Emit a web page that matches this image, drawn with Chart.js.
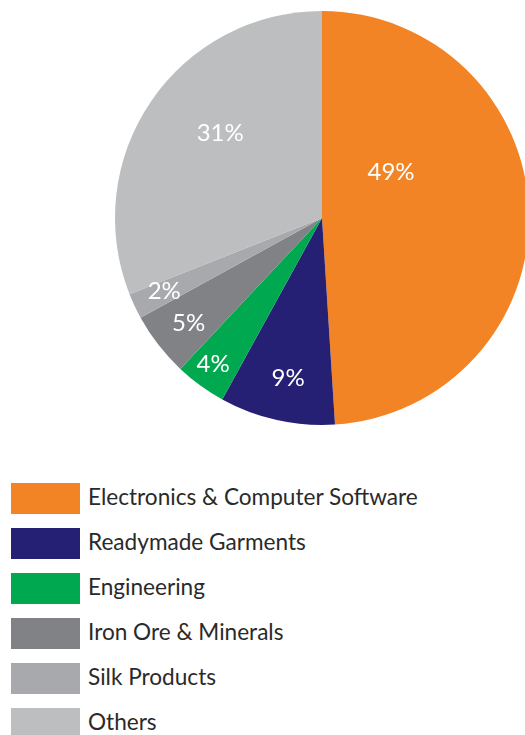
<!DOCTYPE html>
<html>
<head>
<meta charset="utf-8">
<script src="https://cdn.jsdelivr.net/npm/chart.js@4/dist/chart.umd.min.js"></script>
<style>
    html, body { margin: 0; padding: 0; background: #fff; overflow: hidden; }
    body { width: 525px; height: 735px; position: relative; }
    #pieWrap { position: absolute; left: 0; top: 0; width: 644px; height: 436px; }
    #legend { position: absolute; left: 11px; top: 483px; font-family: Lato, sans-serif; }
    .row { display: flex; align-items: center; height: 31px; margin-bottom: 14px; }
    .swatch { width: 69px; height: 31px; margin-right: 8px; }
    .name { font-size: 22.6px; color: #2a2a2a; white-space: nowrap; position: relative; top: -2px; }
</style>
</head>
<body>
<div id="pieWrap"><canvas id="exportChart"></canvas></div>
<div id="legend"></div>
<script>
// Export share by sector (%)
const sectors = ['Electronics & Computer Software', 'Readymade Garments', 'Engineering', 'Iron Ore & Minerals', 'Silk Products', 'Others'];
const shares = [49, 9, 4, 5, 2, 31];
const sectorColors = ['#F38426', '#262075', '#00A950', '#808285', '#A7A9AC', '#BCBEC0'];

// where each % label sits inside its slice: fraction along the arc, fraction of radius
const labelAngleFrac = [0.32, 0.48, 0.55, 0.48, 0.55, 0.55];
const labelRadiusFrac = [0.40, 0.79, 0.88, 0.82, 0.84, 0.64];

// draws the percentage text inside each slice
const sliceLabels = {
    id: 'sliceLabels',
    afterDatasetsDraw(chart) {
        const ctx = chart.ctx;
        const meta = chart.getDatasetMeta(0);
        ctx.save();
        ctx.fillStyle = '#ffffff';
        ctx.font = '24px Lato, sans-serif';
        ctx.textAlign = 'center';
        ctx.textBaseline = 'middle';
        meta.data.forEach((arc, i) => {
            const p = arc.getProps(['x', 'y', 'startAngle', 'endAngle', 'outerRadius'], true);
            const a = p.startAngle + (p.endAngle - p.startAngle) * labelAngleFrac[i];
            const r = p.outerRadius * labelRadiusFrac[i];
            ctx.fillText(shares[i] + '%', p.x + Math.cos(a) * r, p.y + Math.sin(a) * r);
        });
        ctx.restore();
    }
};

new Chart(document.getElementById('exportChart'), {
    type: 'pie',
    data: {
        labels: sectors,
        datasets: [{
            data: shares,
            backgroundColor: sectorColors,
            borderWidth: 0
        }]
    },
    options: {
        responsive: true,
        maintainAspectRatio: false,
        animation: false,
        layout: { padding: 11 },
        plugins: {
            legend: { display: false },
            tooltip: { enabled: false }
        }
    },
    plugins: [sliceLabels]
});

// legend list under the pie
const legendEl = document.getElementById('legend');
sectors.forEach((name, i) => {
    const row = document.createElement('div');
    row.className = 'row';
    row.innerHTML = `<div class="swatch" style="background:${sectorColors[i]}"></div><span class="name">${name}</span>`;
    legendEl.appendChild(row);
});
</script>
</body>
</html>
